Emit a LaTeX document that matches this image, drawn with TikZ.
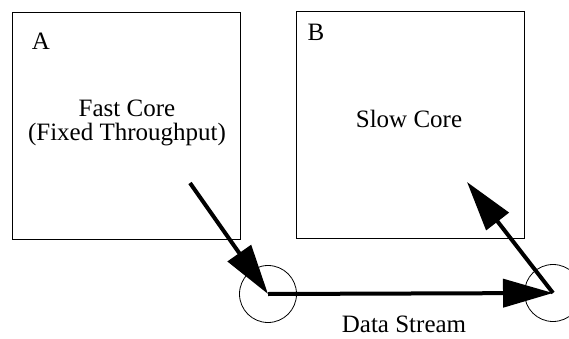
\documentclass[tikz,border=0pt]{standalone}
\usepackage{fontspec}
\setmainfont{Liberation Serif}
\usetikzlibrary{arrows.meta}
\begin{document}
\begin{tikzpicture}[x=1pt,y=-1pt,
  corebox/.style={draw,line width=0.9pt},
  lbl/.style={font=\fontsize{25}{22}\selectfont,inner sep=0pt,anchor=base},
  port/.style={draw,circle,line width=0.8pt,minimum size=57pt,inner sep=0pt},
  flow/.style={line width=4pt,-{Triangle[length=50pt,width=28pt]}}]
\useasboundingbox (0,0) rectangle (569,339);
\clip (0,0) rectangle (569,339);
\draw[corebox] (12,12) rectangle (240,239);
\draw[corebox] (296,11) rectangle (524,238);
\node[lbl] (a) at (41,50) {A};
\node[lbl] (b) at (316,41) {B};
\node[lbl] (fast) at (127,117) {Fast Core};
\node[lbl] (fixed) at (127,140) {(Fixed Throughput)};
\node[lbl] (slow) at (409,128) {Slow Core};
\node[lbl] (data) at (404,332) {Data Stream};
\node[port] (c1) at (268,294) {};
\node[port] (c2) at (553,293) {};
\coordinate (s1) at (190,183);
\coordinate (e3) at (467,182);
\draw[flow] (s1) -- (c1.center);
\draw[flow] (c1.center) -- (c2.center);
\draw[flow] (c2.center) -- (e3);
\end{tikzpicture}
\end{document}
